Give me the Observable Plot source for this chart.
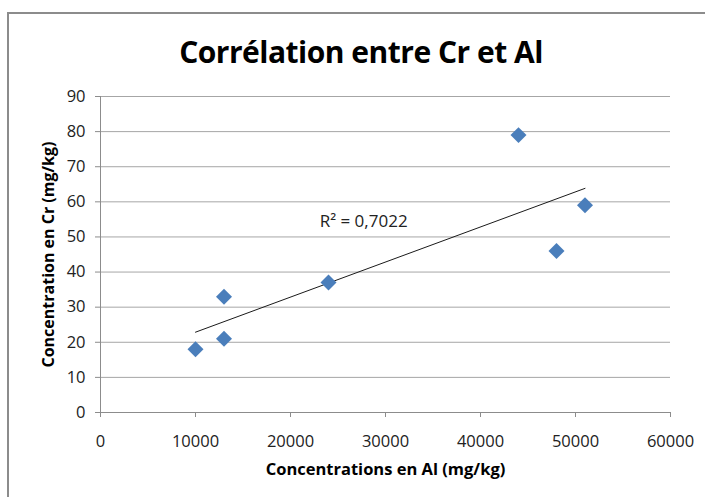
<!DOCTYPE html>
<html><head><meta charset="utf-8">
<script src="https://cdn.jsdelivr.net/npm/d3@7"></script>
<script src="https://cdn.jsdelivr.net/npm/@observablehq/plot@0.6"></script>
<style>
body{margin:0;background:#fff;}
#wrap{position:relative;width:705px;height:497px;overflow:hidden;font-family:"Open Sans",sans-serif;background:#fff;}
#frame{position:absolute;left:7px;top:12px;width:760px;height:560px;border:2px solid #8c8c8c;box-sizing:border-box;}
#title{position:absolute;left:0;top:37px;width:722px;text-align:center;font-size:30px;line-height:1;font-weight:bold;color:#000;letter-spacing:-0.5px;}
#chart{position:absolute;left:0;top:80px;}
</style>
</head><body>
<div id="wrap">
  <div id="frame"></div>
  <div id="title">Corrélation entre Cr et Al</div>
  <div id="chart"></div>
</div>
<script>
const title = "Corrélation entre Cr et Al";
const xLabel = "Concentrations en Al (mg/kg)";
const yLabel = "Concentration en Cr (mg/kg)";
const alValues = [10000, 13000, 13000, 24000, 44000, 48000, 51000];
const crValues = [18, 21, 33, 37, 79, 46, 59];
const xTicks = [0, 10000, 20000, 30000, 40000, 50000, 60000];
const yTicks = [0, 10, 20, 30, 40, 50, 60, 70, 80, 90];
const r2Text = ["R² = 0,7022"];
const r2At = [{x: 27700, y: 54.4}];

document.getElementById("title").textContent = title;
const points = alValues.map((al, i) => ({al, cr: crValues[i]}));
const labelRows = r2Text.map((t, i) => ({t, x: r2At[i].x, y: r2At[i].y}));

const fontFam = '"Open Sans", sans-serif';
const chart = Plot.plot({
  width: 705,
  height: 417,
  marginLeft: 100,
  marginRight: 35,
  marginTop: 16,
  marginBottom: 85,
  style: {fontFamily: fontFam, fontSize: "16px", color: "#222", background: "transparent", overflow: "visible"},
  x: {domain: [0, 60000], ticks: xTicks},
  y: {domain: [0, 90], ticks: yTicks},
  marks: [
    Plot.gridY(yTicks.filter(d => d > 0), {stroke: "#a6a6a6", strokeOpacity: 1}),
    Plot.ruleY([0], {stroke: "#8c8c8c"}),
    Plot.ruleX([0], {stroke: "#8c8c8c"}),
    Plot.axisX(xTicks, {tickSize: 5, tickPadding: 18, stroke: "#8c8c8c", fill: "#222", tickFormat: d => String(d), label: null, fontSize: 16.5}),
    Plot.axisY(yTicks, {tickSize: 5, tickPadding: 10, stroke: "#8c8c8c", fill: "#222", tickFormat: d => String(d), label: null, fontSize: 16.5}),
    Plot.linearRegressionY(points, {x: "al", y: "cr", ci: 0, stroke: "#1a1a1a", strokeWidth: 1}),
    Plot.dot(points, {x: "al", y: "cr", symbol: "diamond2", r: 7.2, fill: "#4a7ebb", stroke: "none"}),
    Plot.text(labelRows, {x: "x", y: "y", text: "t", fontSize: 17, fill: "#222"}),
    Plot.text([xLabel], {frameAnchor: "bottom", textAnchor: "middle", lineAnchor: "top", dy: 51, text: d => d, fontWeight: "bold", fontSize: 16.5, fill: "#000"}),
    Plot.text([yLabel], {frameAnchor: "left", textAnchor: "middle", lineAnchor: "middle", dx: -52, rotate: -90, text: d => d, fontWeight: "bold", fontSize: 16, fill: "#000"})
  ]
});
document.getElementById("chart").appendChild(chart);
</script>
</body></html>
